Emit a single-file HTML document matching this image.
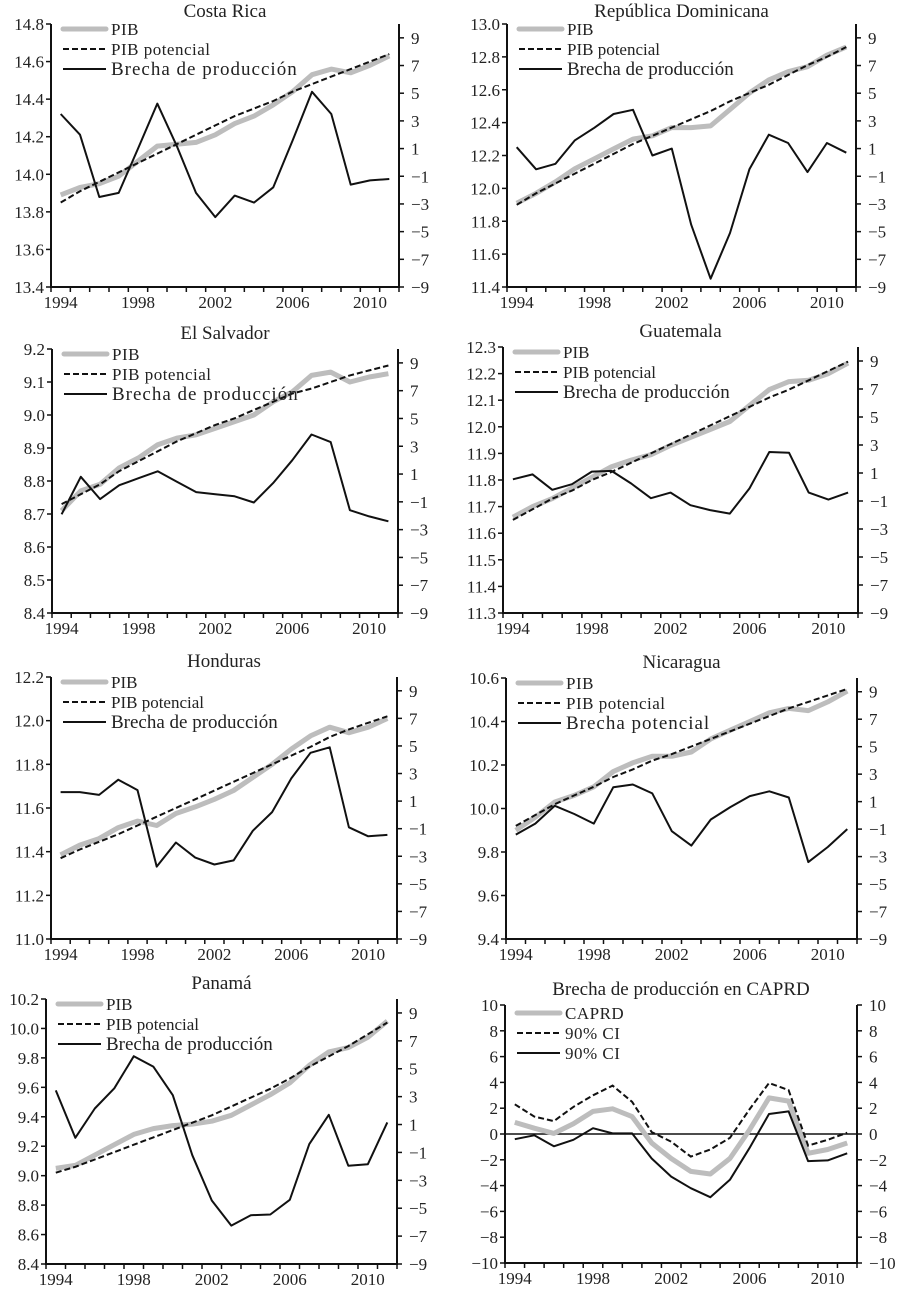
<!DOCTYPE html>
<html><head><meta charset="utf-8">
<style>
html,body{margin:0;padding:0;background:#fff;}
svg{display:block;font-family:"Liberation Serif",serif;}
</style></head>
<body>
<svg id="chart" width="901" height="1293" viewBox="0 0 901 1293"></svg>
<script>
const years = [1994,1995,1996,1997,1998,1999,2000,2001,2002,2003,2004,2005,2006,2007,2008,2009,2010,2011];
const yearLabels = [1994,1998,2002,2006,2010];
const gapTicks = [-9,-7,-5,-3,-1,1,3,5,7,9];

const crPib = [13.89,13.93,13.95,13.99,14.07,14.15,14.16,14.17,14.21,14.27,14.31,14.37,14.44,14.53,14.56,14.54,14.58,14.63];
const crPot = [13.85,13.91,13.96,14.01,14.06,14.11,14.16,14.21,14.26,14.31,14.35,14.39,14.44,14.48,14.52,14.56,14.60,14.64];
const crGap = [3.5,2.0,-2.5,-2.2,1.0,4.25,1.2,-2.2,-3.95,-2.4,-2.9,-1.8,1.6,5.1,3.5,-1.6,-1.3,-1.2];

const rdPib = [11.91,11.97,12.04,12.12,12.18,12.24,12.30,12.32,12.37,12.37,12.38,12.48,12.58,12.66,12.71,12.74,12.81,12.86];
const rdPot = [11.90,11.97,12.03,12.09,12.15,12.21,12.27,12.32,12.37,12.42,12.47,12.53,12.58,12.63,12.69,12.75,12.80,12.86];
const rdGap = [1.1,-0.5,-0.1,1.6,2.5,3.5,3.8,0.5,1.0,-4.5,-8.4,-5.1,-0.5,2.0,1.4,-0.7,1.4,0.7];

const esPib = [8.71,8.77,8.79,8.84,8.87,8.91,8.93,8.94,8.96,8.98,9.00,9.04,9.07,9.12,9.13,9.10,9.115,9.125];
const esPot = [8.73,8.76,8.79,8.83,8.86,8.89,8.92,8.945,8.97,8.99,9.015,9.04,9.065,9.08,9.10,9.12,9.135,9.15];
const esGap = [-1.9,0.8,-0.8,0.2,0.7,1.2,0.45,-0.3,-0.45,-0.6,-1.05,0.35,2.0,3.85,3.3,-1.6,-2.05,-2.4];

const gtPib = [11.66,11.70,11.73,11.77,11.81,11.85,11.875,11.895,11.93,11.96,11.99,12.02,12.08,12.14,12.17,12.175,12.20,12.24];
const gtPot = [11.65,11.69,11.73,11.76,11.80,11.83,11.865,11.90,11.935,11.97,12.005,12.04,12.075,12.11,12.14,12.175,12.21,12.245];
const gtGap = [0.55,0.9,-0.2,0.2,1.1,1.15,0.25,-0.8,-0.4,-1.3,-1.65,-1.9,-0.1,2.5,2.45,-0.4,-0.9,-0.4];

const hnPib = [11.385,11.43,11.46,11.51,11.54,11.52,11.575,11.605,11.64,11.68,11.74,11.80,11.87,11.93,11.97,11.945,11.97,12.01];
const hnPot = [11.37,11.41,11.445,11.48,11.52,11.56,11.60,11.64,11.68,11.72,11.76,11.80,11.84,11.88,11.925,11.96,11.99,12.02];
const hnGap = [1.65,1.65,1.45,2.55,1.8,-3.75,-2.0,-3.1,-3.6,-3.3,-1.15,0.2,2.65,4.5,4.9,-0.9,-1.55,-1.45];

const niPib = [9.90,9.96,10.03,10.06,10.10,10.17,10.21,10.24,10.24,10.26,10.32,10.36,10.40,10.44,10.46,10.45,10.49,10.54];
const niPot = [9.92,9.97,10.02,10.06,10.10,10.145,10.18,10.22,10.25,10.285,10.32,10.355,10.39,10.425,10.46,10.49,10.52,10.55];
const niGap = [-1.4,-0.6,0.7,0.1,-0.6,2.05,2.25,1.6,-1.15,-2.2,-0.3,0.6,1.4,1.75,1.3,-3.4,-2.3,-1.0];

const paPib = [9.05,9.07,9.14,9.21,9.28,9.32,9.34,9.35,9.37,9.41,9.48,9.55,9.63,9.75,9.84,9.87,9.94,10.05];
const paPot = [9.02,9.06,9.11,9.16,9.21,9.26,9.31,9.36,9.41,9.47,9.53,9.59,9.66,9.74,9.81,9.88,9.96,10.04];
const paGap = [3.45,0.05,2.15,3.6,5.9,5.15,3.1,-1.2,-4.45,-6.25,-5.5,-5.45,-4.4,-0.4,1.7,-1.95,-1.85,1.15];

const caprd = [0.9,0.45,0.05,0.8,1.75,1.95,1.35,-0.7,-1.9,-2.9,-3.1,-1.9,0.3,2.8,2.55,-1.5,-1.2,-0.7];
const ciUpper = [2.3,1.35,1.0,2.1,3.0,3.75,2.5,0.15,-0.6,-1.75,-1.2,-0.3,1.9,3.95,3.4,-0.9,-0.45,0.1];
const ciLower = [-0.4,-0.1,-0.95,-0.45,0.45,0.05,0.05,-1.9,-3.3,-4.2,-4.9,-3.55,-1.1,1.55,1.75,-2.1,-2.05,-1.5];

const svg = document.getElementById('chart');
const NS = 'http://www.w3.org/2000/svg';
function mk(tag, attrs, parent){
  const e = document.createElementNS(NS, tag);
  for (const k in attrs) e.setAttribute(k, attrs[k]);
  (parent||svg).appendChild(e);
  return e;
}
function fmt(v, d){ const s = Math.abs(v).toFixed(d); return (v < 0 ? '\u2212' : '') + s; }

function panel(cfg){
  const g = mk('g', {});
  
  
  const L=cfg.L, R=cfg.R, T=cfg.T, B=cfg.B;
  const cw = (R-L)/years.length;
  const xs = i => L + cw*(i+0.5);
  const yl = v => B - (v - cfg.lmin)/(cfg.lmax - cfg.lmin)*(B-T);
  const yr = cfg.rmin !== undefined ? (v => B - (v - cfg.rmin)/(cfg.rmax - cfg.rmin)*(B-T)) : (v => B - (v+9)/19*(B-T));
  const t = mk('text', {x:(L+R)/2, y:Math.max(T-10, 17), 'text-anchor':'middle', 'font-size':19, fill:'#222'}, g);
  t.textContent = cfg.title;
  
  
  const ax = mk('path', {d:`M${L},${T}V${B}H${R}V${T}`, fill:'none', stroke:'#111', 'stroke-width':2}, g);
  
  
  for (let i=0;i<=years.length;i++){
    const tk = mk('line', {x1:L+cw*i, x2:L+cw*i, y1:B, y2:B+5, stroke:'#111', 'stroke-width':1.5}, g);
    
    
  }
  yearLabels.forEach(yv => {
    const i = years.indexOf(yv);
    const lb = mk('text', {x:xs(i), y:B+21, 'text-anchor':'middle', 'font-size':17, fill:'#222'}, g);
    lb.textContent = yv;
    
    
  });
  const n = Math.round((cfg.lmax-cfg.lmin)/cfg.lstep);
  for (let k=0;k<=n;k++){
    const v = cfg.lmin + k*cfg.lstep, y = yl(v);
    const tk = mk('line', {x1:L-5, x2:L, y1:y, y2:y, stroke:'#111', 'stroke-width':1.5}, g);
    
    
    const lb = mk('text', {x:L-7, y:y+6, 'text-anchor':'end', 'font-size':17, fill:'#222'}, g);
    lb.textContent = fmt(v, cfg.dec);
    
    
  }
  const rt = cfg.rticks || gapTicks;
  rt.forEach(v => {
    const y = yr(v);
    const tk = mk('line', {x1:R, x2:R+5, y1:y, y2:y, stroke:'#111', 'stroke-width':1.5}, g);
    
    
    const lb = mk('text', {x:R+12, y:y+6, 'text-anchor':'start', 'font-size':17, fill:'#222'}, g);
    lb.textContent = fmt(v, 0);
    
    
  });
  if (cfg.zero){
    const z = mk('line', {x1:L, x2:R, y1:yl(0), y2:yl(0), stroke:'#111', 'stroke-width':1.5}, g);
    
    
  }
  const styles = [
    {stroke:'#bdbdbd', 'stroke-width':5, fill:'none', 'stroke-linejoin':'round'},
    {stroke:'#111', 'stroke-width':2, fill:'none', 'stroke-dasharray':'6,3'},
    {stroke:'#111', 'stroke-width':2, fill:'none', 'stroke-linejoin':'round'}
  ];
  cfg.series.forEach((s, si) => {
    const yf = s.right ? yr : yl;
    const d = s.data.map((v,i) => (i?'L':'M') + xs(i).toFixed(1) + ',' + yf(v).toFixed(1)).join('');
    const p = mk('path', Object.assign({d:d}, styles[si]), g);
    
    
  });
  cfg.series.forEach((s, si) => {
    const ly = T + 5 + si*20 + (cfg.legDy||0);
    const ln = mk('line', Object.assign({x1:L+12, x2:L+55, y1:ly, y2:ly}, styles[si]), g);
    ln.setAttribute('stroke-linecap', si===0 ? 'round' : 'butt');
    
    
    const big = si===2 && !cfg.smallLegend;
    const lt = mk('text', {x:L+60, y:ly+6, 'font-size': big ? 19 : 17, fill:'#222'}, g);
    if (cfg.spaced) lt.setAttribute('letter-spacing', big ? '1' : '0.5');
    lt.textContent = s.label;
    
    
  });
}
function std(name, pib, pot, gap, gapLabel){
  return [
    {id:name+'-pib-line', label:'PIB', data:pib},
    {id:name+'-potential-line', label:'PIB potencial', data:pot},
    {id:name+'-gap-line', label:gapLabel||'Brecha de producción', data:gap, right:true}
  ];
}
panel({name:'costa-rica-panel', title:'Costa Rica', L:51,R:399,T:24,B:287, lmin:13.4,lmax:14.8,lstep:0.2,dec:1, spaced:true, series:std('costa-rica',crPib,crPot,crGap)});
panel({name:'dominican-republic-panel', title:'República Dominicana', L:507,R:856,T:24,B:287, lmin:11.4,lmax:13.0,lstep:0.2,dec:1, series:std('dominican-republic',rdPib,rdPot,rdGap)});
panel({name:'el-salvador-panel', title:'El Salvador', L:52,R:398,T:349,B:613, lmin:8.4,lmax:9.2,lstep:0.1,dec:1, spaced:true, series:std('el-salvador',esPib,esPot,esGap)});
panel({name:'guatemala-panel', title:'Guatemala', L:503,R:858,T:347,B:613, lmin:11.3,lmax:12.3,lstep:0.1,dec:1, series:std('guatemala',gtPib,gtPot,gtGap)});
panel({name:'honduras-panel', title:'Honduras', L:51,R:397,T:677,B:939, lmin:11.0,lmax:12.2,lstep:0.2,dec:1, series:std('honduras',hnPib,hnPot,hnGap)});
panel({name:'nicaragua-panel', title:'Nicaragua', L:506,R:857,T:678,B:939, lmin:9.4,lmax:10.6,lstep:0.2,dec:1, spaced:true, series:std('nicaragua',niPib,niPot,niGap,'Brecha potencial')});
panel({name:'panama-panel', title:'Panamá', L:46,R:397,T:999,B:1264, lmin:8.4,lmax:10.2,lstep:0.2,dec:1, series:std('panama',paPib,paPot,paGap)});
panel({name:'caprd-panel', title:'Brecha de producción en CAPRD', L:505,R:857,T:1005,B:1263, lmin:-10,lmax:10,lstep:2,dec:0, rmin:-10, rmax:10, rticks:[-10,-8,-6,-4,-2,0,2,4,6,8,10], zero:true, legDy:3, spaced:true, smallLegend:true,
  series:[
    {id:'caprd-line', label:'CAPRD', data:caprd},
    {id:'ci-upper-line', label:'90% CI', data:ciUpper},
    {id:'ci-lower-line', label:'90% CI', data:ciLower}
  ]});
</script>
</body></html>
